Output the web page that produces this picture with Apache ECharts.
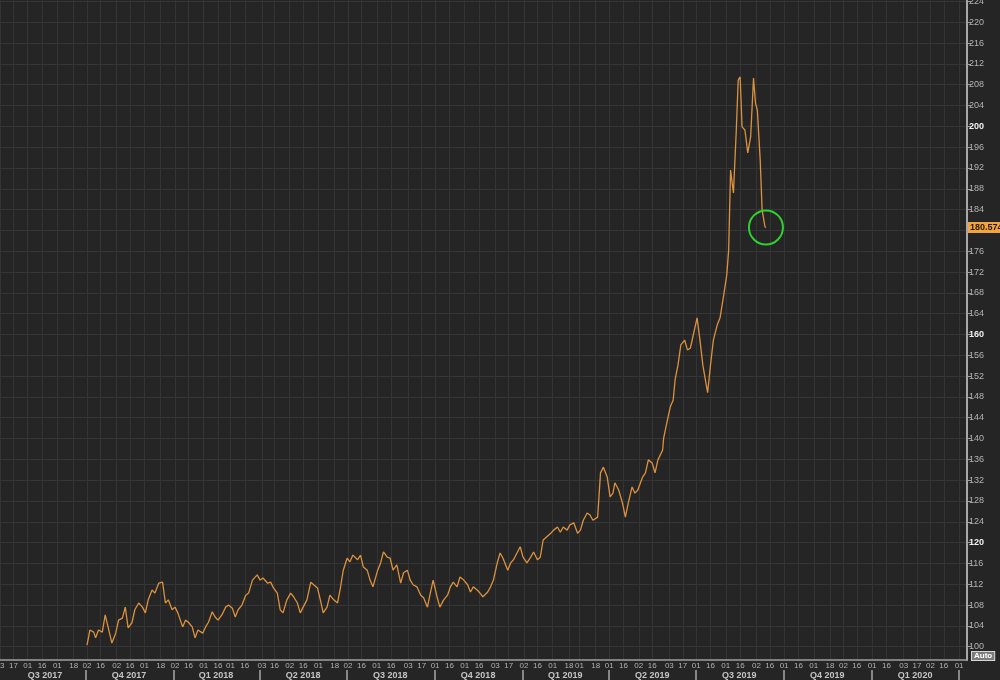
<!DOCTYPE html>
<html>
<head>
<meta charset="utf-8">
<script src="https://cdn.jsdelivr.net/npm/echarts@6/dist/echarts.min.js"></script>
<style>
html,body{margin:0;padding:0;background:#252525;}
#chart{width:1000px;height:680px;}
</style>
</head>
<body>
<div id="chart"></div>
<script>
const dates = [
'2017-10-02','2017-10-05','2017-10-09','2017-10-11','2017-10-14','2017-10-18','2017-10-21','2017-10-24','2017-10-28',
'2017-11-01','2017-11-04','2017-11-08','2017-11-11','2017-11-14','2017-11-18','2017-11-21','2017-11-25','2017-11-29',
'2017-12-02','2017-12-05','2017-12-09','2017-12-12','2017-12-16','2017-12-20','2017-12-23','2017-12-26','2017-12-30',
'2018-01-02','2018-01-05','2018-01-10','2018-01-13','2018-01-16','2018-01-20','2018-01-23','2018-01-26','2018-01-31',
'2018-02-03','2018-02-06','2018-02-10','2018-02-13','2018-02-16','2018-02-20','2018-02-24','2018-02-27',
'2018-03-03','2018-03-06','2018-03-09','2018-03-13','2018-03-17','2018-03-20','2018-03-24','2018-03-29',
'2018-04-01','2018-04-04','2018-04-09','2018-04-12','2018-04-15','2018-04-19','2018-04-22','2018-04-25','2018-04-29',
'2018-05-03','2018-05-06','2018-05-10','2018-05-13','2018-05-16','2018-05-20','2018-05-24','2018-05-27','2018-05-31',
'2018-06-03','2018-06-06','2018-06-10','2018-06-13','2018-06-17','2018-06-21','2018-06-24','2018-06-27',
'2018-07-01','2018-07-04','2018-07-07','2018-07-12','2018-07-15','2018-07-18','2018-07-22','2018-07-25','2018-07-28',
'2018-08-02','2018-08-05','2018-08-08','2018-08-12','2018-08-15','2018-08-18','2018-08-22','2018-08-26','2018-08-29',
'2018-09-02','2018-09-05','2018-09-08','2018-09-12','2018-09-16','2018-09-19','2018-09-23','2018-09-26','2018-09-29',
'2018-10-03','2018-10-06','2018-10-10','2018-10-14','2018-10-17','2018-10-20','2018-10-24','2018-10-27','2018-10-31',
'2018-11-04','2018-11-07','2018-11-10','2018-11-14','2018-11-17','2018-11-20','2018-11-25','2018-11-28',
'2018-12-01','2018-12-05','2018-12-08','2018-12-11','2018-12-16','2018-12-19','2018-12-22','2018-12-29',
'2019-01-01','2019-01-05','2019-01-09','2019-01-12','2019-01-16','2019-01-19','2019-01-22','2019-01-30',
'2019-02-02','2019-02-06','2019-02-09','2019-02-12','2019-02-16','2019-02-19','2019-02-23','2019-02-27',
'2019-03-02','2019-03-05','2019-03-09','2019-03-12','2019-03-15','2019-03-20','2019-03-23','2019-03-26','2019-03-30',
'2019-04-02','2019-04-05','2019-04-07','2019-04-11','2019-04-15','2019-04-18','2019-04-21','2019-04-25','2019-04-28',
'2019-05-01','2019-05-06','2019-05-09','2019-05-12','2019-05-16','2019-05-19','2019-05-22','2019-05-27','2019-05-28',
'2019-06-01','2019-06-04','2019-06-07','2019-06-09','2019-06-12','2019-06-15','2019-06-19','2019-06-22','2019-06-25','2019-06-28',
'2019-07-02','2019-07-05','2019-07-08','2019-07-13','2019-07-16','2019-07-19','2019-07-23','2019-07-26','2019-07-29',
'2019-08-02','2019-08-04','2019-08-06','2019-08-09','2019-08-12','2019-08-14','2019-08-16','2019-08-18','2019-08-21','2019-08-24','2019-08-27','2019-08-30',
'2019-09-01','2019-09-03','2019-09-06','2019-09-08','2019-09-11','2019-09-12'
];
const values = [
100.3,103.2,102.8,101.7,103.2,102.8,106.1,103.8,100.7,
102.6,105.1,105.5,107.6,103.6,104.6,107.1,108.4,107.6,
106.5,109.0,110.9,110.3,112.2,112.4,108.4,109.0,107.1,
107.6,106.5,103.8,105.1,104.7,103.8,101.7,103.2,102.6,
103.8,104.7,106.7,105.7,105.1,106.1,107.6,108.0,
107.4,105.7,107.1,108.0,109.9,110.3,112.8,113.8,
112.8,113.2,112.2,112.4,111.3,110.3,107.1,106.5,109.0,
110.3,109.6,108.4,106.5,107.6,109.0,112.4,111.9,111.3,
109.0,106.5,107.6,109.9,109.0,108.4,111.3,114.7,
117.0,116.3,117.6,116.7,117.6,115.3,114.7,112.8,111.5,
114.7,116.1,118.2,117.2,117.0,114.7,115.7,112.2,114.2,
114.7,112.8,111.9,111.5,109.9,109.4,107.6,110.3,112.8,
109.6,107.6,109.0,109.9,111.5,112.4,111.5,113.4,112.8,
111.9,110.5,111.5,110.9,110.3,109.6,110.5,111.5,
112.8,116.1,118.0,117.0,114.7,116.1,116.7,119.2,
117.2,116.1,117.2,118.2,116.7,117.2,120.5,121.8,
122.4,123.0,122.0,123.0,122.4,123.4,123.8,121.8,
122.4,124.3,125.7,125.3,124.3,124.9,133.4,134.5,132.6,
128.8,129.5,131.5,130.1,127.6,124.9,127.6,130.7,129.5,
130.1,132.6,133.4,135.9,135.3,133.4,135.9,137.8,140.1,
143.6,146.1,147.4,151.3,154.1,158.0,158.9,157.0,157.4,159.9,
163.2,158.9,154.1,148.8,154.1,158.9,161.8,163.2,166.6,
171.4,176.2,191.6,187.2,199.3,208.9,209.5,199.9,199.3,194.9,198.0,209.3,
204.5,203.1,193.5,183.9,180.7,180.574
];
const dayTicks = [
'2017-07-03','2017-07-17','2017-08-01','2017-08-16','2017-09-01','2017-09-18',
'2017-10-02','2017-10-16','2017-11-02','2017-11-16','2017-12-01','2017-12-18',
'2018-01-02','2018-01-16','2018-02-01','2018-02-16','2018-03-01','2018-03-16',
'2018-04-03','2018-04-16','2018-05-02','2018-05-16','2018-06-01','2018-06-18',
'2018-07-02','2018-07-16','2018-08-01','2018-08-16','2018-09-03','2018-09-17',
'2018-10-01','2018-10-16','2018-11-01','2018-11-16','2018-12-03','2018-12-17',
'2019-01-02','2019-01-16','2019-02-01','2019-02-18','2019-03-01','2019-03-18',
'2019-04-01','2019-04-16','2019-05-02','2019-05-16','2019-06-03','2019-06-17',
'2019-07-01','2019-07-16','2019-08-01','2019-08-16','2019-09-02','2019-09-16',
'2019-10-01','2019-10-16','2019-11-01','2019-11-18','2019-12-02','2019-12-16',
'2020-01-01','2020-01-16','2020-02-03','2020-02-17','2020-03-02','2020-03-16',
'2020-04-01'
];
const quarterStarts = ['2017-10-01','2018-01-01','2018-04-01','2018-07-01','2018-10-01','2019-01-01','2019-04-01','2019-07-01','2019-10-01','2020-01-01','2020-04-01'];
const quarterMids = ['2017-08-19','2017-11-15','2018-02-14','2018-05-16','2018-08-15','2018-11-15','2019-02-14','2019-05-16','2019-08-15','2019-11-15','2020-02-15'];
const quarterLabels = ['Q3 2017','Q4 2017','Q1 2018','Q2 2018','Q3 2018','Q4 2018','Q1 2019','Q2 2019','Q3 2019','Q4 2019','Q1 2020'];
const yTicks = [100,104,108,112,116,120,124,128,132,136,140,144,148,152,156,160,164,168,172,176,180,184,188,192,196,200,204,208,212,216,220,224];
const lastValue = 180.574;

function ts(s){ const p = s.split('-'); return new Date(+p[0], +p[1]-1, +p[2]).getTime(); }
function pad(n){ return (n < 10 ? '0' : '') + n; }

const seriesData = dates.map((d, i) => [ts(d), values[i]]);
const xMin = new Date(2017, 6, 3).getTime();
const xMax = new Date(2020, 3, 9, 6).getTime();
const FONT = 'Liberation Sans, Arial, sans-serif';
const dayTs = dayTicks.map(ts);
const midTs = quarterMids.map(ts);

const chart = echarts.init(document.getElementById('chart'));
chart.setOption({
  backgroundColor: '#252525',
  animation: false,
  grid: { left: 0, right: 33, top: 0, bottom: 20, containLabel: false, outerBoundsMode: 'none' },
  xAxis: [{
    type: 'value', min: xMin, max: xMax, position: 'bottom', scale: true,
    axisLine: { show: true, lineStyle: { color: '#a0a0a0', width: 1.5 } },
    axisTick: { show: false, customValues: dayTs },
    axisLabel: {
      customValues: dayTs, hideOverlap: false, showMinLabel: true, showMaxLabel: true,
      formatter: v => pad(new Date(v).getDate()),
      color: '#b0b0b0', fontSize: 8, margin: 2, fontFamily: FONT
    },
    splitLine: { show: true, lineStyle: { color: '#343434', width: 1 } }
  }, {
    type: 'value', min: xMin, max: xMax, position: 'bottom', offset: 10, scale: true,
    axisLine: { show: false },
    axisTick: { show: true, customValues: quarterStarts.map(ts), length: 10, lineStyle: { color: '#a8a8a8', width: 1.5 } },
    axisLabel: {
      customValues: midTs, hideOverlap: false,
      formatter: v => { const i = midTs.indexOf(v); return i >= 0 ? quarterLabels[i] : ''; },
      color: '#c4c4c4', fontSize: 9, fontWeight: 'bold', margin: 1, fontFamily: FONT
    },
    splitLine: { show: false }
  }],
  yAxis: {
    type: 'value', position: 'right', min: 97.44, max: 224.28, scale: true,
    axisLine: { show: true, lineStyle: { color: '#a8a8a8', width: 2 } },
    axisTick: { show: true, customValues: yTicks, length: 4, lineStyle: { color: '#a0a0a0' } },
    axisLabel: {
      customValues: yTicks, margin: 2, color: '#b4b4b4', fontSize: 9, fontFamily: FONT,
      formatter: v => (v % 40 === 0 ? '{b|' + v + '}' : '' + v),
      rich: { b: { fontWeight: 'bold', color: '#f0f0f0', fontSize: 9, fontFamily: FONT } }
    },
    splitLine: { show: true, lineStyle: { color: '#363636', width: 1 } }
  },
  series: [{
    type: 'line', xAxisIndex: 0, yAxisIndex: 0, data: seriesData,
    showSymbol: false, symbol: 'none', silent: true, clip: false,
    lineStyle: { color: '#dc923f', width: 1.3 },
    markPoint: {
      silent: true, symbol: 'circle', symbolSize: 34,
      itemStyle: { color: 'rgba(0,0,0,0)', borderColor: '#2ed12e', borderWidth: 2 },
      label: { show: false },
      data: [{ coord: seriesData[seriesData.length - 1] }]
    },
    markLine: {
      silent: true, symbol: 'none',
      lineStyle: { color: 'rgba(0,0,0,0)', width: 1, type: 'solid' },
      label: {
        show: true, position: 'end', distance: 1, formatter: () => lastValue.toFixed(4),
        backgroundColor: '#f2a53c', color: '#2a1800', fontSize: 9, fontWeight: 'bold',
        padding: [1, 2, 1, 2], fontFamily: FONT
      },
      data: [{ yAxis: lastValue }]
    }
  }],
  graphic: [{
    type: 'text', left: 971, top: 651, silent: true,
    style: {
      text: 'Auto', fill: '#ffffff', font: 'bold 8px Liberation Sans, Arial, sans-serif',
      backgroundColor: '#7c7c7c', borderColor: '#d8d8d8', borderWidth: 1, padding: [0, 2, 0, 2]
    }
  }]
});
</script>
</body>
</html>
